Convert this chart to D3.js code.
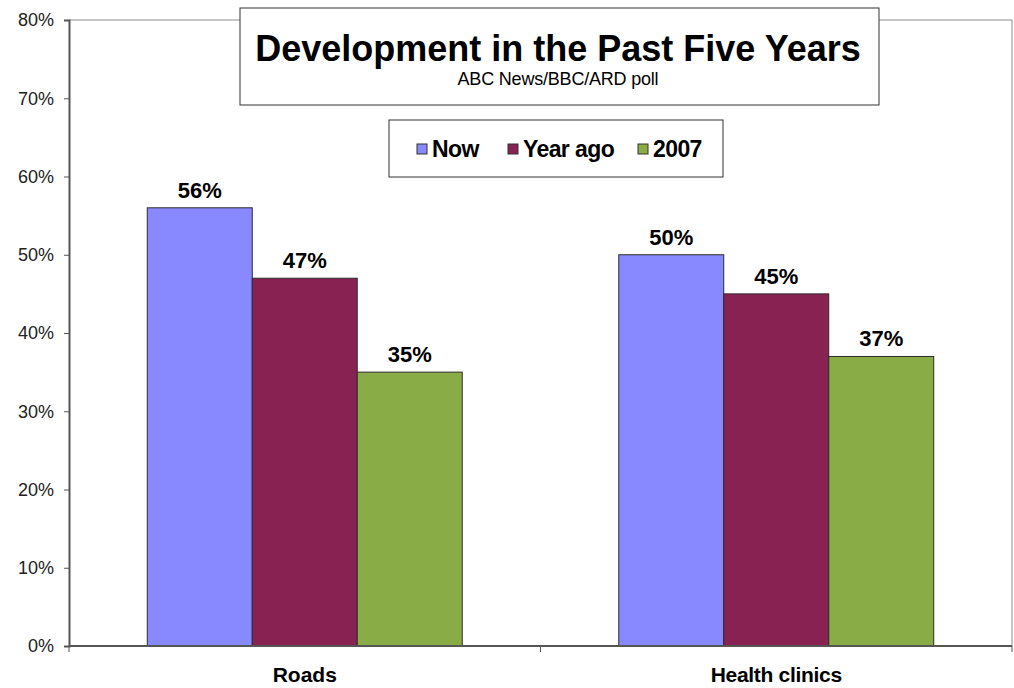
<!DOCTYPE html>
<html>
<head>
<meta charset="utf-8">
<script src="https://cdn.jsdelivr.net/npm/d3@7"></script>
<style>
  body { margin: 0; background: #fff; }
  text { font-family: "Liberation Sans", Arial, sans-serif; }
</style>
</head>
<body>
<div id="chart"></div>
<script>
// data
const categories = ["Roads", "Health clinics"];
const seriesNames = ["Now", "Year ago", "2007"];
const seriesColors = ["#8888ff", "#882252", "#8aac46"];
const nowValues = [56, 50];
const yearAgoValues = [47, 45];
const y2007Values = [35, 37];
const yTicks = [0, 10, 20, 30, 40, 50, 60, 70, 80];

const allSeries = [nowValues, yearAgoValues, y2007Values];

// plot box inside the 1014x688 window
const margin = {top: 20, right: 2, bottom: 42, left: 69},
      W = 1014, H = 688,
      width = W - margin.left - margin.right,
      height = H - margin.top - margin.bottom;

const svg = d3.select("#chart").append("svg")
  .attr("width", W).attr("height", H);
const g = svg.append("g")
  .attr("transform", "translate(" + margin.left + "," + margin.top + ")");

const y = d3.scaleLinear().domain([0, 80]).range([height, 0]);
const x0 = d3.scaleBand().domain(categories).range([0, width]).padding(0);
// bars fill the middle two thirds of each category band
const x1 = d3.scaleBand().domain(seriesNames)
  .range([x0.bandwidth() * 0.166, x0.bandwidth() * 0.834]).padding(0);

// plot area frame (top and right)
g.append("line").attr("x1", 0).attr("x2", width).attr("y1", 0).attr("y2", 0)
  .attr("stroke", "#8c8c8c");
g.append("line").attr("x1", width).attr("x2", width).attr("y1", 0).attr("y2", height)
  .attr("stroke", "#8c8c8c");

// bars
categories.forEach(function(cat, ci) {
  seriesNames.forEach(function(s, si) {
    const v = allSeries[si][ci];
    const bx = x0(cat) + x1(s);
    g.append("rect")
      .attr("x", bx).attr("y", y(v))
      .attr("width", x1.bandwidth()).attr("height", height - y(v))
      .attr("fill", seriesColors[si])
      .attr("stroke", "#2b2b2b").attr("stroke-width", 1);
    g.append("text")
      .attr("x", bx + x1.bandwidth() / 2).attr("y", y(v) - 10)
      .attr("text-anchor", "middle")
      .attr("font-size", 22).attr("font-weight", "bold")
      .attr("fill", "#000")
      .text(v + "%");
  });
});

// y axis
const yAxis = g.append("g")
  .call(d3.axisLeft(y).tickValues(yTicks).tickSize(5).tickFormat(d => d + "%"));
yAxis.select(".domain").attr("stroke", "#555").attr("stroke-width", 2);
yAxis.selectAll(".tick line").attr("stroke", "#555");
yAxis.selectAll(".tick text")
  .attr("x", -15).attr("font-size", 18).attr("fill", "#222")
  .attr("font-family", "Liberation Sans, Arial, sans-serif");

// x axis with ticks at category boundaries
const xAxisG = g.append("g").attr("transform", "translate(0," + height + ")");
xAxisG.append("line").attr("x1", 0).attr("x2", width)
  .attr("stroke", "#555").attr("stroke-width", 2);
[0, x0.bandwidth(), width].forEach(function(tx) {
  xAxisG.append("line").attr("x1", tx).attr("x2", tx).attr("y1", 0).attr("y2", 6)
    .attr("stroke", "#555");
});
categories.forEach(function(cat) {
  xAxisG.append("text")
    .attr("x", x0(cat) + x0.bandwidth() / 2).attr("y", 36)
    .attr("text-anchor", "middle")
    .attr("font-size", 21).attr("font-weight", "bold")
    .attr("letter-spacing", cat.length > 6 ? -0.3 : 0)
    .text(cat);
});

// title box
svg.append("rect").attr("x", 240).attr("y", 8).attr("width", 639).attr("height", 97)
  .attr("fill", "#fff").attr("stroke", "#333").attr("stroke-width", 1);
svg.append("text").attr("x", 558).attr("y", 61).attr("text-anchor", "middle")
  .attr("font-size", 36).attr("font-weight", "bold")
  .text("Development in the Past Five Years");
svg.append("text").attr("x", 558).attr("y", 85).attr("text-anchor", "middle")
  .attr("font-size", 18).attr("letter-spacing", -0.2)
  .text("ABC News/BBC/ARD poll");

// legend box
svg.append("rect").attr("x", 389).attr("y", 120).attr("width", 334).attr("height", 57)
  .attr("fill", "#fff").attr("stroke", "#333").attr("stroke-width", 1);
const legendX = [417, 508, 638];
seriesNames.forEach(function(s, i) {
  svg.append("rect").attr("x", legendX[i]).attr("y", 144).attr("width", 10).attr("height", 10)
    .attr("fill", seriesColors[i]).attr("stroke", "#333");
  svg.append("text").attr("x", legendX[i] + 15).attr("y", 157)
    .attr("font-size", 23).attr("font-weight", "bold")
    .attr("letter-spacing", -0.6)
    .text(s);
});
</script>
</body>
</html>
